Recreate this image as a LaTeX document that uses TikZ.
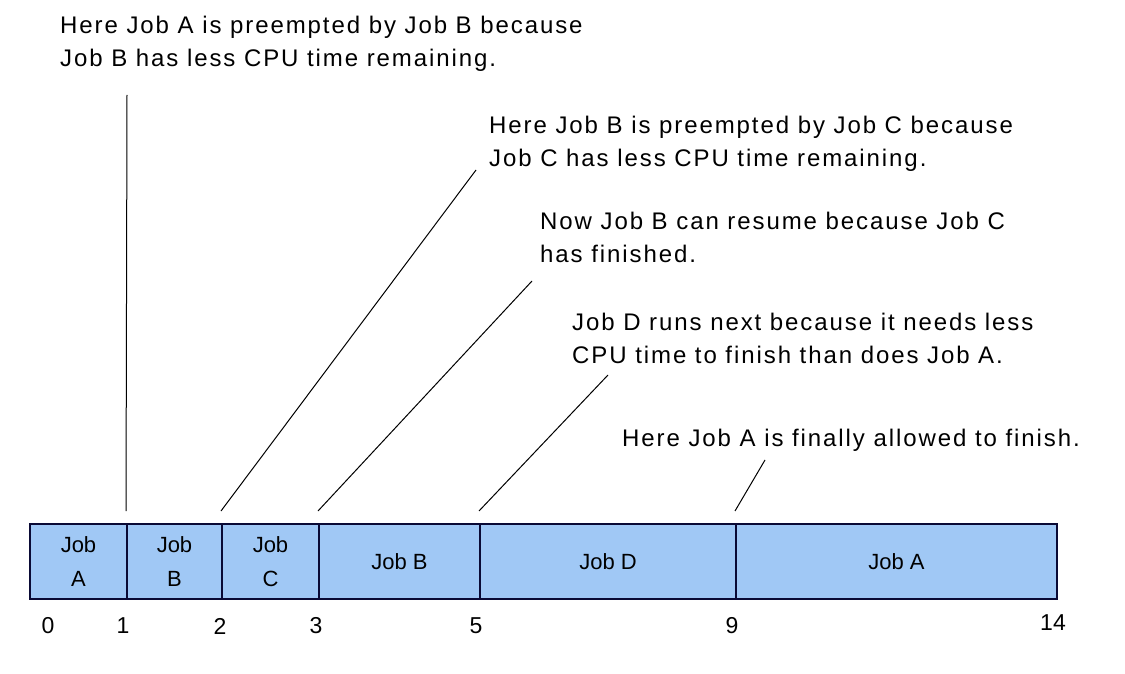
\documentclass[tikz,border=0pt]{standalone}
\usepackage{fontspec}
\setmainfont{Liberation Sans}
\newfontfamily\annfont[LetterSpace=8]{Liberation Sans}
\definecolor{barfill}{HTML}{A0C8F5}
\definecolor{barline}{HTML}{0A0A35}
\begin{document}
\begin{tikzpicture}[x=1pt,y=-1pt,
  cell/.style={draw=barline, line width=2pt, fill=barfill, minimum height=75pt, inner sep=0pt, align=center, font=\fontsize{22}{34}\selectfont},
  ann/.style={anchor=west, inner sep=0pt, align=left, font=\annfont\fontsize{24}{33}\selectfont},
  tick/.style={inner sep=0pt, font=\fontsize{23}{26}\selectfont},
  lead/.style={draw=black, line width=1pt}]
\useasboundingbox (0,0) rectangle (1125,674);
% bar cells
\node[cell, minimum width=97pt]  (c0) at (78.5,561.5) {Job\\A};
\node[cell, minimum width=95pt]  (c1) at (174.5,561.5) {Job\\B};
\node[cell, minimum width=97pt]  (c2) at (270.5,561.5) {Job\\C};
\node[cell, minimum width=161pt] (c3) at (399.5,561.5) {Job B};
\node[cell, minimum width=256pt] (c4) at (608,561.5) {Job D};
\node[cell, minimum width=321pt] (c5) at (896.5,561.5) {Job A};
% axis labels
\node[tick] (t0) at (48,626) {0};
\node[tick] (t1) at (123,626) {1};
\node[tick] (t2) at (220,626) {2};
\node[tick] (t3) at (316,626) {3};
\node[tick] (t5) at (476,626) {5};
\node[tick] (t9) at (732,626) {9};
\node[tick] (t14) at (1053,623) {14};
% annotations
\node[ann] (a1) at (60,43.5) {Here Job A is preempted by Job B because\\Job B has less CPU time remaining.};
\node[ann] (a2) at (489,143.5) {Here Job B is preempted by Job C because\\Job C has less CPU time remaining.};
\node[ann] (a3) at (540,237) {Now Job B can resume because Job C\\has finished.};
\node[ann] (a4) at (572,338.5) {Job D runs next because it needs less\\CPU time to finish than does Job A.};
\node[ann] (a5) at (622,440) {Here Job A is finally allowed to finish.};
% leader start and end points
\coordinate (s1) at (127,95);
\coordinate (s2) at (476,170);
\coordinate (s3) at (532,281);
\coordinate (s4) at (608,375);
\coordinate (s5) at (765,460);
\coordinate (e1) at ([yshift=12pt]c1.north west);
\coordinate (e2) at ([yshift=12pt]c2.north west);
\coordinate (e3) at ([yshift=12pt]c3.north west);
\coordinate (e4) at ([yshift=12pt]c4.north west);
\coordinate (e5) at ([yshift=12pt]c5.north west);
\draw[lead] (s1) -- (e1);
\draw[lead] (s2) -- (e2);
\draw[lead] (s3) -- (e3);
\draw[lead] (s4) -- (e4);
\draw[lead] (s5) -- (e5);
\end{tikzpicture}
\end{document}
